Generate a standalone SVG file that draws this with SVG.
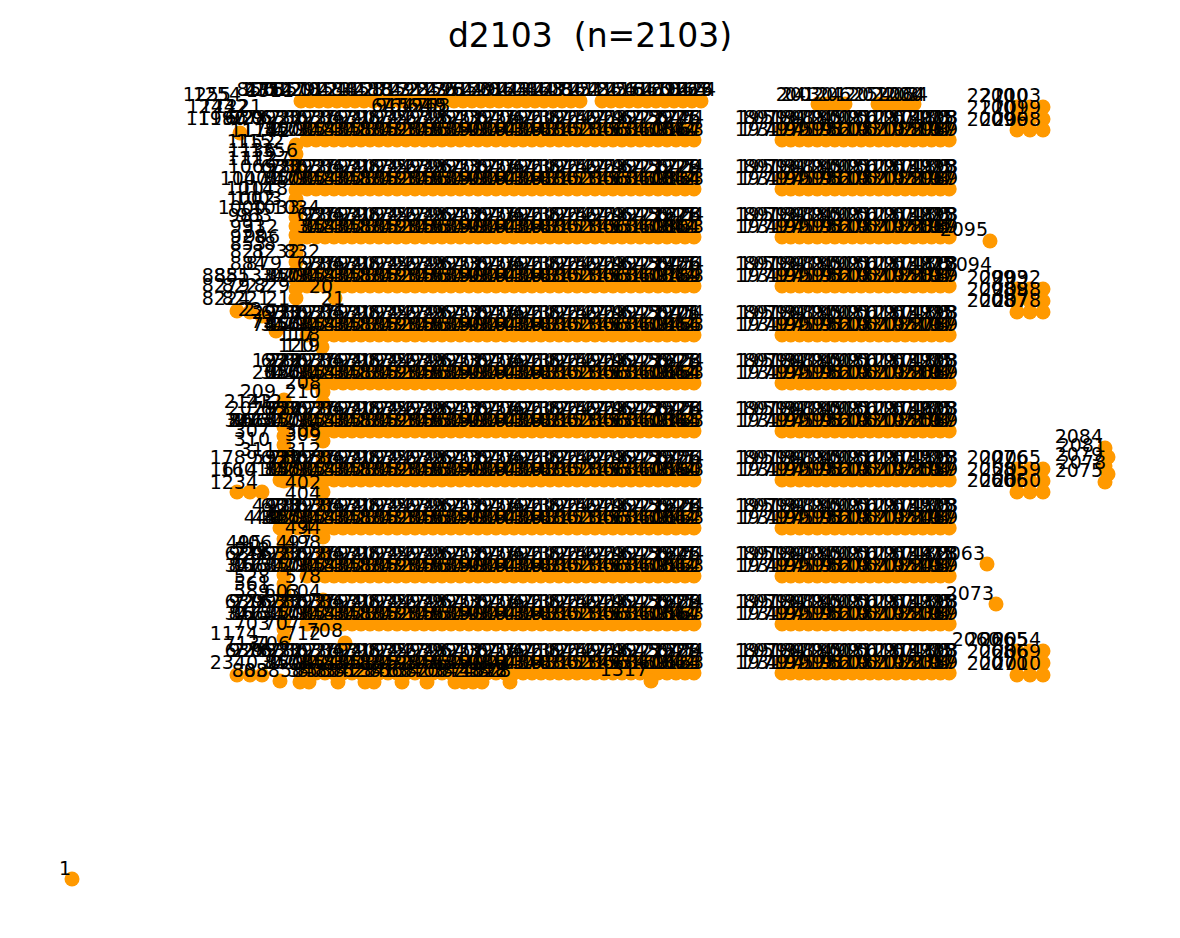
<svg xmlns="http://www.w3.org/2000/svg" width="1180" height="938" viewBox="0 0 1180 938">
<style>
.row{stroke:#ff9900;stroke-width:15;stroke-linecap:round;stroke-dasharray:0 9;fill:none}
.rowR{stroke:#ff9900;stroke-width:15;stroke-linecap:round;stroke-dasharray:0 8.8;fill:none}
.n{fill:#ff9900}
.t{font-family:"DejaVu Sans",sans-serif;font-size:19px;fill:#000}
.e{text-anchor:end}
.d{letter-spacing:-3.08px;text-anchor:end}
.title{font-family:"DejaVu Sans",sans-serif;font-size:33px;fill:#000;text-anchor:middle;white-space:pre}
</style>
<rect width="1180" height="938" fill="#fff"/>
<text class="title" x="590" y="47" xml:space="preserve">d2103  (n=2103)</text>
<g id="edges"/>

<g id="nodes-left-block">
<line class="row" x1="301" y1="101" x2="589" y2="101"/>
<line class="row" x1="602" y1="101" x2="710" y2="101"/>
<line class="row" x1="307" y1="129" x2="703" y2="129"/><line class="row" x1="307" y1="140" x2="703" y2="140"/>
<line class="row" x1="307" y1="178" x2="703" y2="178"/><line class="row" x1="307" y1="189" x2="703" y2="189"/>
<line class="row" x1="307" y1="226" x2="703" y2="226"/><line class="row" x1="307" y1="237" x2="703" y2="237"/>
<line class="row" x1="307" y1="275" x2="703" y2="275"/><line class="row" x1="307" y1="286" x2="703" y2="286"/>
<line class="row" x1="307" y1="324" x2="703" y2="324"/><line class="row" x1="307" y1="335" x2="703" y2="335"/>
<line class="row" x1="307" y1="372" x2="703" y2="372"/><line class="row" x1="307" y1="383" x2="703" y2="383"/>
<line class="row" x1="307" y1="420" x2="703" y2="420"/><line class="row" x1="307" y1="431" x2="703" y2="431"/>
<line class="row" x1="280" y1="469" x2="703" y2="469"/><line class="row" x1="280" y1="480" x2="703" y2="480"/>
<line class="row" x1="280" y1="517" x2="703" y2="517"/><line class="row" x1="280" y1="528" x2="703" y2="528"/>
<line class="row" x1="307" y1="565" x2="703" y2="565"/><line class="row" x1="307" y1="576" x2="703" y2="576"/>
<line class="row" x1="307" y1="613" x2="703" y2="613"/><line class="row" x1="307" y1="624" x2="703" y2="624"/>
<line class="row" x1="307" y1="662" x2="703" y2="662"/><line class="row" x1="307" y1="673" x2="703" y2="673"/>
<line class="row" x1="300" y1="682" x2="318" y2="682"/>
<line class="row" x1="338" y1="682" x2="347" y2="682"/>
<line class="row" x1="365" y1="682" x2="383" y2="682"/>
<line class="row" x1="402" y1="682" x2="411" y2="682"/>
<line class="row" x1="427" y1="682" x2="436" y2="682"/>
<line class="row" x1="455" y1="682" x2="491" y2="682"/>
<line class="row" x1="510" y1="682" x2="510" y2="682"/>
<circle class="n" cx="651" cy="681" r="7.5"/>
</g>

<g id="nodes-left-side">
<line class="row" x1="296" y1="145" x2="296" y2="307"/>
<line class="row" x1="284" y1="400" x2="284" y2="490"/>
<line class="row" x1="284" y1="530" x2="284" y2="647"/>
<circle class="n" cx="240" cy="133" r="7.5"/>
<circle class="n" cx="237" cy="311" r="7.5"/>
<circle class="n" cx="250" cy="312" r="7.5"/>
<circle class="n" cx="262" cy="316" r="7.5"/>
<circle class="n" cx="276" cy="331" r="7.5"/>
<circle class="n" cx="335" cy="298" r="7.5"/>
<circle class="n" cx="322" cy="336" r="7.5"/>
<circle class="n" cx="322" cy="347" r="7.5"/>
<circle class="n" cx="323" cy="392" r="7.5"/>
<circle class="n" cx="323" cy="403" r="7.5"/>
<circle class="n" cx="323" cy="441" r="7.5"/>
<circle class="n" cx="323" cy="458" r="7.5"/>
<circle class="n" cx="323" cy="492" r="7.5"/>
<circle class="n" cx="323" cy="503" r="7.5"/>
<circle class="n" cx="323" cy="537" r="7.5"/>
<circle class="n" cx="323" cy="553" r="7.5"/>
<circle class="n" cx="323" cy="600" r="7.5"/>
<circle class="n" cx="345" cy="643" r="7.5"/>
<circle class="n" cx="237" cy="492" r="7.5"/>
<circle class="n" cx="250" cy="492" r="7.5"/>
<circle class="n" cx="262" cy="492" r="7.5"/>
<circle class="n" cx="237" cy="675" r="7.5"/>
<circle class="n" cx="250" cy="675" r="7.5"/>
<circle class="n" cx="262" cy="675" r="7.5"/>
<circle class="n" cx="280" cy="681" r="7.5"/>
</g>

<g id="nodes-right-block">
<line class="row" x1="818" y1="104" x2="854" y2="104"/>
<line class="row" x1="878" y1="104" x2="923" y2="104"/>
<line class="rowR" x1="782" y1="129" x2="958" y2="129"/><line class="rowR" x1="782" y1="140" x2="958" y2="140"/>
<line class="rowR" x1="782" y1="178" x2="958" y2="178"/><line class="rowR" x1="782" y1="189" x2="958" y2="189"/>
<line class="rowR" x1="782" y1="226" x2="958" y2="226"/><line class="rowR" x1="782" y1="237" x2="958" y2="237"/>
<line class="rowR" x1="782" y1="275" x2="958" y2="275"/><line class="rowR" x1="782" y1="286" x2="958" y2="286"/>
<line class="rowR" x1="782" y1="324" x2="958" y2="324"/><line class="rowR" x1="782" y1="335" x2="958" y2="335"/>
<line class="rowR" x1="782" y1="372" x2="958" y2="372"/><line class="rowR" x1="782" y1="383" x2="958" y2="383"/>
<line class="rowR" x1="782" y1="420" x2="958" y2="420"/><line class="rowR" x1="782" y1="431" x2="958" y2="431"/>
<line class="rowR" x1="782" y1="469" x2="958" y2="469"/><line class="rowR" x1="782" y1="480" x2="958" y2="480"/>
<line class="rowR" x1="782" y1="517" x2="958" y2="517"/><line class="rowR" x1="782" y1="528" x2="958" y2="528"/>
<line class="rowR" x1="782" y1="565" x2="958" y2="565"/><line class="rowR" x1="782" y1="576" x2="958" y2="576"/>
<line class="rowR" x1="782" y1="613" x2="958" y2="613"/><line class="rowR" x1="782" y1="624" x2="958" y2="624"/>
<line class="rowR" x1="782" y1="662" x2="958" y2="662"/><line class="rowR" x1="782" y1="673" x2="958" y2="673"/>
</g>

<g id="nodes-far-right">
<g class="n">
<circle cx="1017" cy="107" r="7.5"/><circle cx="1030" cy="107" r="7.5"/><circle cx="1043" cy="107" r="7.5"/>
<circle cx="1017" cy="119" r="7.5"/><circle cx="1030" cy="119" r="7.5"/><circle cx="1043" cy="119" r="7.5"/>
<circle cx="1017" cy="130" r="7.5"/><circle cx="1030" cy="130" r="7.5"/><circle cx="1043" cy="130" r="7.5"/>
<circle cx="990" cy="241" r="7.5"/>
<circle cx="1017" cy="289" r="7.5"/><circle cx="1030" cy="289" r="7.5"/><circle cx="1043" cy="289" r="7.5"/>
<circle cx="1017" cy="301" r="7.5"/><circle cx="1030" cy="301" r="7.5"/><circle cx="1043" cy="301" r="7.5"/>
<circle cx="1017" cy="312" r="7.5"/><circle cx="1030" cy="312" r="7.5"/><circle cx="1043" cy="312" r="7.5"/>
<circle cx="1105" cy="448" r="7.5"/><circle cx="1108" cy="457" r="7.5"/><circle cx="1105" cy="466" r="7.5"/>
<circle cx="1108" cy="474" r="7.5"/><circle cx="1105" cy="482" r="7.5"/>
<circle cx="1017" cy="469" r="7.5"/><circle cx="1030" cy="469" r="7.5"/><circle cx="1043" cy="469" r="7.5"/>
<circle cx="1017" cy="481" r="7.5"/><circle cx="1030" cy="481" r="7.5"/><circle cx="1043" cy="481" r="7.5"/>
<circle cx="1017" cy="492" r="7.5"/><circle cx="1030" cy="492" r="7.5"/><circle cx="1043" cy="492" r="7.5"/>
<circle cx="987" cy="564" r="7.5"/>
<circle cx="996" cy="604" r="7.5"/>
<circle cx="1017" cy="651" r="7.5"/><circle cx="1030" cy="651" r="7.5"/><circle cx="1043" cy="651" r="7.5"/>
<circle cx="1017" cy="663" r="7.5"/><circle cx="1030" cy="663" r="7.5"/><circle cx="1043" cy="663" r="7.5"/>
<circle cx="1017" cy="675" r="7.5"/><circle cx="1030" cy="675" r="7.5"/><circle cx="1043" cy="675" r="7.5"/>
</g>
</g>

<g id="node-1">
<circle class="n" cx="72" cy="879" r="7.5"/>
<text class="t e" x="71" y="875">1</text>
</g>

<g id="labels-left-block" class="t">
<text class="d" x="713" y="96">2206221022142218222222262230223422382242224622502254</text>
<text class="d" x="709" y="96">1575157915831587159115951599160316071611161516191623</text>
<text class="d" x="705" y="96">8416842084248428843284368440844484488452845684608464</text>
<text class="e" x="713" y="96">1316</text>

<text class="d" x="447" y="112">94149418</text>
<text class="d" x="443" y="112">67656769</text>
<text class="e" x="447" y="112">1245</text>

<text class="d" x="701" y="124">2206221022142218222222262230223422382242224622502254</text>
<text class="d" x="697" y="124">9378938293869390939493989402940694109414941894229426</text>
<text class="d" x="693" y="124">6729673367376741674567496753675767616765676967736777</text>
<text class="e" x="701" y="124">2245</text>
<text class="d" x="701" y="136">157915831587159115951599160316071611161516191623</text>
<text class="d" x="697" y="136">842084248428843284368440844484488452845684608464</text>
<text class="d" x="693" y="136">307030743078308230863090309430983102310631103114</text>
<text class="e" x="701" y="136">1567</text>

<text class="d" x="701" y="173">221022142218222222262230223422382242224622502254</text>
<text class="d" x="697" y="173">938293869390939493989402940694109414941894229426</text>
<text class="d" x="693" y="173">673367376741674567496753675767616765676967736777</text>
<text class="e" x="701" y="173">1229</text>
<text class="d" x="701" y="185">157915831587159115951599160316071611161516191623</text>
<text class="d" x="697" y="185">842084248428843284368440844484488452845684608464</text>
<text class="d" x="693" y="185">307030743078308230863090309430983102310631103114</text>
<text class="e" x="701" y="185">1834</text>

<text class="d" x="701" y="221">22142218222222262230223422382242224622502254</text>
<text class="d" x="697" y="221">93869390939493989402940694109414941894229426</text>
<text class="d" x="693" y="221">67376741674567496753675767616765676967736777</text>
<text class="e" x="701" y="221">1678</text>
<text class="d" x="701" y="233">15831587159115951599160316071611161516191623</text>
<text class="d" x="697" y="233">84248428843284368440844484488452845684608464</text>
<text class="d" x="693" y="233">30743078308230863090309430983102310631103114</text>
<text class="e" x="701" y="233">1801</text>

<text class="d" x="701" y="270">22142218222222262230223422382242224622502254</text>
<text class="d" x="697" y="270">93869390939493989402940694109414941894229426</text>
<text class="d" x="693" y="270">67376741674567496753675767616765676967736777</text>
<text class="e" x="701" y="270">1456</text>
<text class="d" x="701" y="282">157915831587159115951599160316071611161516191623</text>
<text class="d" x="697" y="282">842084248428843284368440844484488452845684608464</text>
<text class="d" x="693" y="282">307030743078308230863090309430983102310631103114</text>
<text class="e" x="701" y="282">1789</text>

<text class="d" x="701" y="319">221022142218222222262230223422382242224622502254</text>
<text class="d" x="697" y="319">938293869390939493989402940694109414941894229426</text>
<text class="d" x="693" y="319">673367376741674567496753675767616765676967736777</text>
<text class="e" x="701" y="319">1701</text>
<text class="d" x="701" y="331">157915831587159115951599160316071611161516191623</text>
<text class="d" x="697" y="331">842084248428843284368440844484488452845684608464</text>
<text class="d" x="693" y="331">307030743078308230863090309430983102310631103114</text>
<text class="e" x="701" y="331">1456</text>

<text class="d" x="701" y="367">221022142218222222262230223422382242224622502254</text>
<text class="d" x="697" y="367">938293869390939493989402940694109414941894229426</text>
<text class="d" x="693" y="367">673367376741674567496753675767616765676967736777</text>
<text class="e" x="701" y="367">1623</text>
<text class="d" x="701" y="379">157915831587159115951599160316071611161516191623</text>
<text class="d" x="697" y="379">842084248428843284368440844484488452845684608464</text>
<text class="d" x="693" y="379">307030743078308230863090309430983102310631103114</text>
<text class="e" x="701" y="379">1654</text>

<text class="d" x="701" y="415">221022142218222222262230223422382242224622502254</text>
<text class="d" x="697" y="415">938293869390939493989402940694109414941894229426</text>
<text class="d" x="693" y="415">673367376741674567496753675767616765676967736777</text>
<text class="e" x="701" y="415">1578</text>
<text class="d" x="701" y="427">1575157915831587159115951599160316071611161516191623</text>
<text class="d" x="697" y="427">8416842084248428843284368440844484488452845684608464</text>
<text class="d" x="693" y="427">3066307030743078308230863090309430983102310631103114</text>
<text class="e" x="701" y="427">1345</text>

<text class="d" x="701" y="464">221022142218222222262230223422382242224622502254</text>
<text class="d" x="697" y="464">938293869390939493989402940694109414941894229426</text>
<text class="d" x="693" y="464">673367376741674567496753675767616765676967736777</text>
<text class="e" x="701" y="464">1556</text>
<text class="d" x="701" y="476">157915831587159115951599160316071611161516191623</text>
<text class="d" x="697" y="476">842084248428843284368440844484488452845684608464</text>
<text class="d" x="693" y="476">307030743078308230863090309430983102310631103114</text>
<text class="e" x="701" y="476">1590</text>

<text class="d" x="701" y="512">221022142218222222262230223422382242224622502254</text>
<text class="d" x="697" y="512">938293869390939493989402940694109414941894229426</text>
<text class="d" x="693" y="512">673367376741674567496753675767616765676967736777</text>
<text class="e" x="701" y="512">1678</text>
<text class="d" x="701" y="524">157915831587159115951599160316071611161516191623</text>
<text class="d" x="697" y="524">842084248428843284368440844484488452845684608464</text>
<text class="d" x="693" y="524">307030743078308230863090309430983102310631103114</text>
<text class="e" x="701" y="524">1612</text>

<text class="d" x="701" y="560">2206221022142218222222262230223422382242224622502254</text>
<text class="d" x="697" y="560">9378938293869390939493989402940694109414941894229426</text>
<text class="d" x="693" y="560">6729673367376741674567496753675767616765676967736777</text>
<text class="e" x="701" y="560">1645</text>
<text class="d" x="701" y="572">1575157915831587159115951599160316071611161516191623</text>
<text class="d" x="697" y="572">8416842084248428843284368440844484488452845684608464</text>
<text class="d" x="693" y="572">3066307030743078308230863090309430983102310631103114</text>
<text class="e" x="701" y="572">1512</text>

<text class="d" x="701" y="608">2206221022142218222222262230223422382242224622502254</text>
<text class="d" x="697" y="608">9378938293869390939493989402940694109414941894229426</text>
<text class="d" x="693" y="608">6729673367376741674567496753675767616765676967736777</text>
<text class="e" x="701" y="608">1689</text>
<text class="d" x="701" y="620">1575157915831587159115951599160316071611161516191623</text>
<text class="d" x="697" y="620">8416842084248428843284368440844484488452845684608464</text>
<text class="d" x="693" y="620">3066307030743078308230863090309430983102310631103114</text>
<text class="e" x="701" y="620">1567</text>

<text class="d" x="701" y="657">2206221022142218222222262230223422382242224622502254</text>
<text class="d" x="697" y="657">9378938293869390939493989402940694109414941894229426</text>
<text class="d" x="693" y="657">6729673367376741674567496753675767616765676967736777</text>
<text class="e" x="701" y="657">1589</text>
<text class="d" x="701" y="669">157915831587159115951599160316071611161516191623</text>
<text class="d" x="697" y="669">842084248428843284368440844484488452845684608464</text>
<text class="d" x="693" y="669">307030743078308230863090309430983102310631103114</text>
<text class="e" x="701" y="669">1623</text>

<text class="d" x="508" y="677">840884128416842084248428</text>
<text class="d" x="504" y="677">385838623866387038743878</text>
<text class="e" x="508" y="677">1822</text>
<text class="e" x="648" y="676">1317</text>
</g>

<g id="labels-left-side" class="t">
<text class="e" x="231" y="101">1255</text><text class="e" x="241" y="101">1254</text>
<text class="e" x="294" y="97">1311</text>
<text class="e" x="235" y="113">1243</text><text class="e" x="248" y="113">1242</text><text class="e" x="262" y="113">1221</text>
<text class="e" x="234" y="125">1198</text><text class="e" x="246" y="125">1190</text>
<text class="e" x="278" y="137">1174</text><text class="e" x="290" y="137">1172</text>
<text class="e" x="275" y="148">1152</text><text class="e" x="284" y="148">1152</text>
<text class="e" x="276" y="157">1136</text><text class="e" x="298" y="157">1356</text>
<text class="e" x="275" y="165">1112</text><text class="e" x="290" y="165">1127</text>
<text class="e" x="276" y="173">1065</text>
<text class="e" x="268" y="185">1040</text><text class="e" x="280" y="185">1071</text>
<text class="e" x="274" y="195">1014</text><text class="e" x="288" y="195">1018</text>
<text class="e" x="275" y="205">1002</text><text class="e" x="282" y="205">1003</text>
<text class="e" x="266" y="214">1000</text><text class="e" x="300" y="214">1033</text><text class="e" x="320" y="214">1034</text>
<text class="e" x="264" y="222">983</text><text class="e" x="272" y="222">963</text>
<text class="e" x="266" y="233">931</text><text class="e" x="278" y="233">932</text>
<text class="e" x="266" y="243">928</text><text class="e" x="280" y="243">906</text>
<text class="e" x="266" y="250">853</text><text class="e" x="276" y="250">8</text>
<text class="e" x="266" y="258">821</text><text class="e" x="300" y="258">8232</text><text class="e" x="320" y="258">832</text>
<text class="e" x="266" y="270">884</text><text class="e" x="282" y="270">879</text>
<text class="e" x="250" y="282">8851</text><text class="e" x="262" y="282">8853</text>
<text class="e" x="250" y="292">8279</text><text class="e" x="270" y="292">8222</text><text class="e" x="290" y="292">829</text>
<text class="e" x="333" y="293">20</text>
<text class="e" x="250" y="305">8224</text><text class="e" x="270" y="305">8221</text><text class="e" x="290" y="305">21</text>
<text class="e" x="345" y="305">21</text>
<text class="e" x="255" y="316">2</text><text class="e" x="262" y="316">23</text><text class="e" x="300" y="319">2933</text>
<text class="e" x="275" y="328">73</text><text class="e" x="300" y="331">7456</text>
<text class="e" x="320" y="341">118</text><text class="e" x="314" y="341">117</text>
<text class="e" x="320" y="352">119</text><text class="e" x="314" y="352">120</text>
<text class="e" x="300" y="367">1222</text>
<text class="e" x="300" y="379">2026</text>
<text class="e" x="321" y="389">208</text>
<text class="e" x="276" y="398">209</text><text class="e" x="321" y="398">210</text>
<text class="e" x="272" y="408">2143</text><text class="e" x="282" y="408">212</text>
<text class="e" x="276" y="415">2078</text><text class="e" x="300" y="415">2157</text>
<text class="e" x="276" y="427">2015</text>
<text class="e" x="270" y="437">307</text><text class="e" x="321" y="437">308</text><text class="e" x="321" y="441">309</text>
<text class="e" x="270" y="446">310</text>
<text class="e" x="276" y="456">311</text><text class="e" x="321" y="456">312</text>
<text class="e" x="258" y="464">1789</text><text class="e" x="300" y="464">5331</text>
<text class="e" x="258" y="476">1614</text><text class="e" x="268" y="476">1601</text><text class="e" x="300" y="476">135</text>
<text class="e" x="258" y="489">1234</text><text class="e" x="321" y="489">402</text>
<text class="e" x="321" y="500">404</text>
<text class="e" x="300" y="512">4408</text>
<text class="e" x="280" y="524">449</text><text class="e" x="300" y="524">4425</text>
<text class="e" x="321" y="534">494</text><text class="e" x="313" y="534">4</text>
<text class="e" x="262" y="549">495</text><text class="e" x="272" y="549">406</text><text class="e" x="321" y="549">498</text><text class="e" x="312" y="549">497</text>
<text class="e" x="270" y="556">512</text>
<text class="e" x="270" y="583">528</text><text class="e" x="321" y="583">578</text>
<text class="e" x="270" y="590">561</text>
<text class="e" x="270" y="598">589</text><text class="e" x="321" y="598">604</text><text class="e" x="300" y="598">603</text>
<text class="e" x="270" y="630">703</text><text class="e" x="300" y="630">707</text><text class="e" x="343" y="637">708</text>
<text class="e" x="258" y="640">1174</text><text class="e" x="321" y="640">712</text>
<text class="e" x="272" y="650">7131</text><text class="e" x="290" y="650">706</text>
<text class="e" x="258" y="669">2340</text>
<text class="e" x="268" y="677">808</text><text class="e" x="292" y="677">8385</text>
</g>

<g id="labels-right-block" class="t">
<text class="d" x="925" y="101">2003201220242034</text>
<text class="d" x="920" y="101">2041204620512060</text>
<text class="e" x="925" y="101">2034</text>

<text class="d" x="955" y="124">199719982000200220042008</text>
<text class="d" x="951" y="124">180518071809181118131815</text>
<text class="d" x="947" y="124">19341945195619671978</text>
<text class="e" x="957" y="124">2008</text>
<text class="d" x="955" y="136">193419451956196719781989</text>
<text class="d" x="951" y="136">177717791781178317851787</text>
<text class="d" x="947" y="136">19971998200020022004</text>
<text class="e" x="957" y="136">1967</text>

<text class="d" x="955" y="173">199719982000200220042008</text>
<text class="d" x="951" y="173">180518071809181118131815</text>
<text class="d" x="947" y="173">19341945195619671978</text>
<text class="e" x="957" y="173">1993</text>
<text class="d" x="955" y="185">193419451956196719781989</text>
<text class="d" x="951" y="185">177717791781178317851787</text>
<text class="d" x="947" y="185">19971998200020022004</text>
<text class="e" x="957" y="185">1967</text>

<text class="d" x="955" y="221">199719982000200220042008</text>
<text class="d" x="951" y="221">180518071809181118131815</text>
<text class="d" x="947" y="221">19341945195619671978</text>
<text class="e" x="957" y="221">1893</text>
<text class="d" x="955" y="233">193419451956196719781989</text>
<text class="d" x="951" y="233">177717791781178317851787</text>
<text class="d" x="947" y="233">19971998200020022004</text>
<text class="e" x="957" y="233">1867</text>

<text class="d" x="955" y="270">199719982000200220042008</text>
<text class="d" x="951" y="270">180518071809181118131815</text>
<text class="d" x="947" y="270">19341945195619671978</text>
<text class="e" x="957" y="270">1823</text>
<text class="d" x="955" y="282">193419451956196719781989</text>
<text class="d" x="951" y="282">177717791781178317851787</text>
<text class="d" x="947" y="282">19971998200020022004</text>
<text class="e" x="957" y="282">1817</text>

<text class="d" x="955" y="319">199719982000200220042008</text>
<text class="d" x="951" y="319">180518071809181118131815</text>
<text class="d" x="947" y="319">19341945195619671978</text>
<text class="e" x="957" y="319">1793</text>
<text class="d" x="955" y="331">193419451956196719781989</text>
<text class="d" x="951" y="331">177717791781178317851787</text>
<text class="d" x="947" y="331">19971998200020022004</text>
<text class="e" x="957" y="331">1767</text>

<text class="d" x="955" y="367">199719982000200220042008</text>
<text class="d" x="951" y="367">180518071809181118131815</text>
<text class="d" x="947" y="367">19341945195619671978</text>
<text class="e" x="957" y="367">1703</text>
<text class="d" x="955" y="379">193419451956196719781989</text>
<text class="d" x="951" y="379">177717791781178317851787</text>
<text class="d" x="947" y="379">19971998200020022004</text>
<text class="e" x="957" y="379">1667</text>

<text class="d" x="955" y="415">199719982000200220042008</text>
<text class="d" x="951" y="415">180518071809181118131815</text>
<text class="d" x="947" y="415">19341945195619671978</text>
<text class="e" x="957" y="415">1603</text>
<text class="d" x="955" y="427">193419451956196719781989</text>
<text class="d" x="951" y="427">177717791781178317851787</text>
<text class="d" x="947" y="427">19971998200020022004</text>
<text class="e" x="957" y="427">1567</text>

<text class="d" x="955" y="464">199719982000200220042008</text>
<text class="d" x="951" y="464">180518071809181118131815</text>
<text class="d" x="947" y="464">19341945195619671978</text>
<text class="e" x="957" y="464">1593</text>
<text class="d" x="955" y="476">193419451956196719781989</text>
<text class="d" x="951" y="476">177717791781178317851787</text>
<text class="d" x="947" y="476">19971998200020022004</text>
<text class="e" x="957" y="476">1557</text>

<text class="d" x="955" y="512">199719982000200220042008</text>
<text class="d" x="951" y="512">180518071809181118131815</text>
<text class="d" x="947" y="512">19341945195619671978</text>
<text class="e" x="957" y="512">1503</text>
<text class="d" x="955" y="524">193419451956196719781989</text>
<text class="d" x="951" y="524">177717791781178317851787</text>
<text class="d" x="947" y="524">19971998200020022004</text>
<text class="e" x="957" y="524">1467</text>

<text class="d" x="955" y="560">199719982000200220042008</text>
<text class="d" x="951" y="560">180518071809181118131815</text>
<text class="d" x="947" y="560">19341945195619671978</text>
<text class="e" x="957" y="560">1413</text>
<text class="d" x="955" y="572">193419451956196719781989</text>
<text class="d" x="951" y="572">177717791781178317851787</text>
<text class="d" x="947" y="572">19971998200020022004</text>
<text class="e" x="957" y="572">1457</text>

<text class="d" x="955" y="608">199719982000200220042008</text>
<text class="d" x="951" y="608">180518071809181118131815</text>
<text class="d" x="947" y="608">19341945195619671978</text>
<text class="e" x="957" y="608">1393</text>
<text class="d" x="955" y="620">193419451956196719781989</text>
<text class="d" x="951" y="620">177717791781178317851787</text>
<text class="d" x="947" y="620">19971998200020022004</text>
<text class="e" x="957" y="620">1367</text>

<text class="d" x="955" y="657">199719982000200220042008</text>
<text class="d" x="951" y="657">180518071809181118131815</text>
<text class="d" x="947" y="657">19341945195619671978</text>
<text class="e" x="957" y="657">1303</text>
<text class="d" x="955" y="669">193419451956196719781989</text>
<text class="d" x="951" y="669">177717791781178317851787</text>
<text class="d" x="947" y="669">19971998200020022004</text>
<text class="e" x="957" y="669">1357</text>
</g>

<g id="labels-far-right" class="t e">
<text x="1015" y="102">2200</text><text x="1028" y="102">2100</text><text x="1041" y="102">2103</text>
<text x="1015" y="114">2100</text><text x="1028" y="114">2101</text><text x="1041" y="114">2099</text>
<text x="1015" y="126">2009</text><text x="1028" y="126">2096</text><text x="1041" y="126">2098</text>
<text x="988" y="236">2095</text>
<text x="992" y="271">2094</text>
<text x="1015" y="284">2099</text><text x="1028" y="284">2093</text><text x="1041" y="284">2092</text>
<text x="1015" y="296">2098</text><text x="1028" y="296">2089</text><text x="1041" y="296">2088</text>
<text x="1015" y="307">2008</text><text x="1028" y="307">2087</text><text x="1041" y="307">2078</text>
<text x="1103" y="443">2084</text><text x="1106" y="452">2081</text><text x="1103" y="461">2079</text>
<text x="1106" y="469">2078</text><text x="1103" y="477">2075</text>
<text x="1015" y="464">2007</text><text x="1028" y="464">2076</text><text x="1041" y="464">2065</text>
<text x="1015" y="476">2058</text><text x="1028" y="476">2055</text><text x="1041" y="476">2059</text>
<text x="1015" y="487">2060</text><text x="1028" y="487">2066</text><text x="1041" y="487">2050</text>
<text x="985" y="560">2063</text>
<text x="994" y="600">2073</text>
<text x="1000" y="646">2060</text>
<text x="1015" y="646">2066</text><text x="1028" y="646">2065</text><text x="1041" y="646">2054</text>
<text x="1015" y="658">2068</text><text x="1028" y="658">2066</text><text x="1041" y="658">2069</text>
<text x="1015" y="670">2007</text><text x="1028" y="670">2070</text><text x="1041" y="670">2010</text>
</g>
</svg>
